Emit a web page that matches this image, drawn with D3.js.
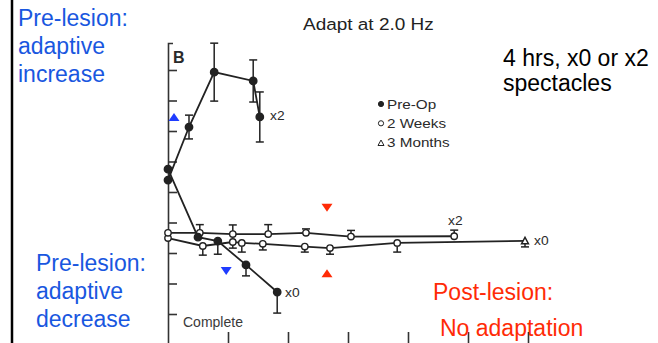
<!DOCTYPE html>
<html>
<head>
<meta charset="utf-8">
<script src="https://cdn.jsdelivr.net/npm/d3@7"></script>
<style>
    body { margin: 0; background: #fff; }
    svg { display: block; font-family: "Liberation Sans", Arial, sans-serif; }
</style>
</head>
<body>
<div id="chart"></div>
<script>
// tick positions (unlabelled in the original figure)
const xTicks = [1, 2, 3, 4, 5, 6];
const yTicks = [0, 1, 2, 3, 4, 5, 6, 7, 8];

// Pre-Op, x2 spectacles
const preX2X = [0, 0.35, 0.77, 1.42, 1.53];
const preX2Y = [4.39, 6.13, 7.93, 7.64, 6.46];
const preX2Err = [0, 0.39, 0.95, 0.69, 0.82];

// Pre-Op, x0 spectacles
const preX0X = [0, 0.5, 0.83, 1.3, 1.82];
const preX0Y = [4.75, 2.52, 2.39, 1.61, 0.72];
const preX0Err = [0, 0, 0.43, 0.36, 0.69];

// post-lesion, x2 spectacles
const postX2X = [0, 0.53, 1.08, 1.67, 2.3, 3.05, 4.77];
const postX2Y = [2.66, 2.66, 2.62, 2.62, 2.66, 2.54, 2.55];
const postX2Err = [0, 0.27, 0.3, 0.31, 0.13, 0.2, 0.2];
const postX2Mark = ["o", "o", "o", "o", "o", "o", "o"];

// post-lesion, x0 spectacles
const postX0X = [0, 0.58, 1.08, 1.23, 1.58, 2.28, 2.7, 3.82, 5.95];
const postX0Y = [2.49, 2.23, 2.36, 2.33, 2.30, 2.21, 2.16, 2.33, 2.40];
const postX0Err = [0, 0.3, 0.2, 0.3, 0.2, 0.18, 0.2, 0.3, 0.2];
const postX0Mark = ["o", "o", "o", "o", "o", "o", "o", "o", "t"];

const legendLabels = ["Pre-Op", "2 Weeks", "3 Months"];
const legendMarks = ["dot", "o", "t"];

// annotation arrowheads
const arrowX = [0.1, 0.97, 2.65, 2.65];
const arrowY = [6.46, 1.41, 3.48, 1.34];
const arrowKind = ["pre-up", "pre-down", "post-down", "post-up"];

function drawChart() {
    const width = 658;
    const height = 343;
    const ink = "#222";
    const blue = "#1957e0";
    const red = "#ff2b06";

    const svg = d3.select("#chart")
                  .append("svg")
                  .attr("width", width)
                  .attr("height", height);

    const x = d3.scaleLinear().domain([0, 490 / 60]).range([168, 658]);
    const y = d3.scaleLinear().domain([-30 / 30.5, 271 / 30.5]).range([344, 43]);

    // left slide border
    svg.append("line")
       .attr("x1", 12).attr("x2", 12)
       .attr("y1", 0).attr("y2", height)
       .attr("stroke", "#000")
       .attr("stroke-width", 2.5);

    // axes
    const yAxis = svg.append("g")
                     .attr("transform", "translate(" + x(0) + ",0)")
                     .call(d3.axisRight(y).tickValues(yTicks).tickSizeInner(9).tickSizeOuter(5).tickFormat(""));
    const xAxis = svg.append("g")
                     .attr("transform", "translate(0,344)")
                     .call(d3.axisTop(x).tickValues(xTicks).tickSizeInner(12).tickSizeOuter(0).tickFormat(""));
    [yAxis, xAxis].forEach(function (g) {
        g.selectAll("path, line").attr("stroke", "#333").attr("stroke-width", 1.6);
    });

    function marker(g, kind, cx, cy) {
        if (kind === "t") {
            g.append("path")
             .attr("d", "M" + (cx - 3.5) + "," + (cy + 3) + "L" + (cx + 3.5) + "," + (cy + 3) + "L" + cx + "," + (cy - 3.5) + "Z")
             .attr("fill", "#fff")
             .attr("stroke", ink)
             .attr("stroke-width", 1.4);
        } else {
            g.append("circle")
             .attr("cx", cx).attr("cy", cy)
             .attr("r", kind === "dot" ? 3.7 : 3.2)
             .attr("fill", kind === "dot" ? ink : "#fff")
             .attr("stroke", ink)
             .attr("stroke-width", 1.4);
        }
    }

    function drawSeries(xs, ys, errs, dir, marks) {
        const pts = xs.map(function (v, i) {
            return {x: v, y: ys[i], e: errs[i], m: marks ? marks[i] : "dot"};
        });
        const g = svg.append("g");
        g.append("path")
         .datum(pts)
         .attr("fill", "none")
         .attr("stroke", ink)
         .attr("stroke-width", 1.8)
         .attr("d", d3.line().x(function (d) { return x(d.x); }).y(function (d) { return y(d.y); }));

        pts.filter(function (d) { return d.e > 0; }).forEach(function (d) {
            const lo = dir === "up" ? d.y : d.y - d.e;
            const hi = dir === "down" ? d.y : d.y + d.e;
            g.append("line")
             .attr("x1", x(d.x)).attr("x2", x(d.x))
             .attr("y1", y(lo)).attr("y2", y(hi))
             .attr("stroke", ink).attr("stroke-width", 1.5);
            [lo, hi].forEach(function (v) {
                if (v === d.y) return;
                g.append("line")
                 .attr("x1", x(d.x) - 4).attr("x2", x(d.x) + 4)
                 .attr("y1", y(v)).attr("y2", y(v))
                 .attr("stroke", ink).attr("stroke-width", 1.5);
            });
        });
        pts.forEach(function (d) {
            marker(g, d.m, x(d.x), y(d.y));
        });
    }

    drawSeries(postX0X, postX0Y, postX0Err, "down", postX0Mark);
    drawSeries(postX2X, postX2Y, postX2Err, "up", postX2Mark);
    drawSeries(preX2X, preX2Y, preX2Err, "both", null);
    drawSeries(preX0X, preX0Y, preX0Err, "down", null);

    // figure texts (scanned figure is a bit wide, so stretch horizontally)
    function figText(txt, tx, ty, size, sx, fill, weight) {
        svg.append("text")
           .attr("transform", "translate(" + tx + "," + ty + ") scale(" + sx + ",1)")
           .style("font-size", size + "px")
           .style("font-weight", weight || "normal")
           .attr("fill", fill || "#2a2a2a")
           .text(txt);
    }
    figText("Adapt at 2.0 Hz", 303, 30, 16.5, 1.15, "#222");
    figText("B", 173, 62.5, 16, 1.0, "#2a2a2a", "bold");
    figText("x2", 270, 120, 12, 1.15);
    figText("x0", 285, 297, 12, 1.15);
    figText("x2", 448, 225, 12, 1.15);
    figText("x0", 534, 245, 12, 1.15);
    figText("Complete", 183, 327, 14, 1.0, "#3a3a3a");

    // legend
    legendLabels.forEach(function (lab, i) {
        const ly = 104 + i * 19.3;
        const g = svg.append("g");
        if (legendMarks[i] === "t") {
            g.append("path")
             .attr("d", "M378,145.5L384,145.5L381,140Z")
             .attr("transform", "translate(0," + (ly - 142.6) + ")")
             .attr("fill", "#fff").attr("stroke", ink).attr("stroke-width", 1);
        } else {
            g.append("circle")
             .attr("cx", 381).attr("cy", ly)
             .attr("r", 2.6)
             .attr("fill", legendMarks[i] === "dot" ? ink : "#fff")
             .attr("stroke", ink).attr("stroke-width", 1);
        }
        figText(lab, 387, ly + 4.5, 12.5, 1.22);
    });

    // arrowheads
    svg.selectAll("path.arrow")
       .data(arrowKind)
       .enter()
       .append("path")
       .attr("class", "arrow")
       .attr("d", function (d, i) {
           const cx = x(arrowX[i]);
           const cy = y(arrowY[i]);
           const s = d.indexOf("up") > 0 ? 1 : -1;
           return "M" + (cx - 5.5) + "," + (cy + 4 * s) + "L" + (cx + 5.5) + "," + (cy + 4 * s) + "L" + cx + "," + (cy - 4 * s) + "Z";
       })
       .attr("fill", function (d) {
           return d.indexOf("pre") === 0 ? "#1f3cff" : red;
       });

    // slide annotations
    function slideText(lines, tx, ty, gap, fill) {
        const t = svg.append("text")
                     .style("font-size", "23px")
                     .attr("fill", fill);
        lines.forEach(function (l, i) {
            t.append("tspan").attr("x", tx).attr("y", ty + i * gap).text(l);
        });
    }
    slideText(["Pre-lesion:", "adaptive", "increase"], 18, 26, 28.2, blue);
    slideText(["Pre-lesion:", "adaptive", "decrease"], 36, 271, 28, blue);
    slideText(["4 hrs, x0 or x2", "spectacles"], 503, 66, 25, "#000");
    slideText(["Post-lesion:"], 433, 300, 0, red);
    slideText(["No adaptation"], 440, 336, 0, red);
}

drawChart();
</script>
</body>
</html>
